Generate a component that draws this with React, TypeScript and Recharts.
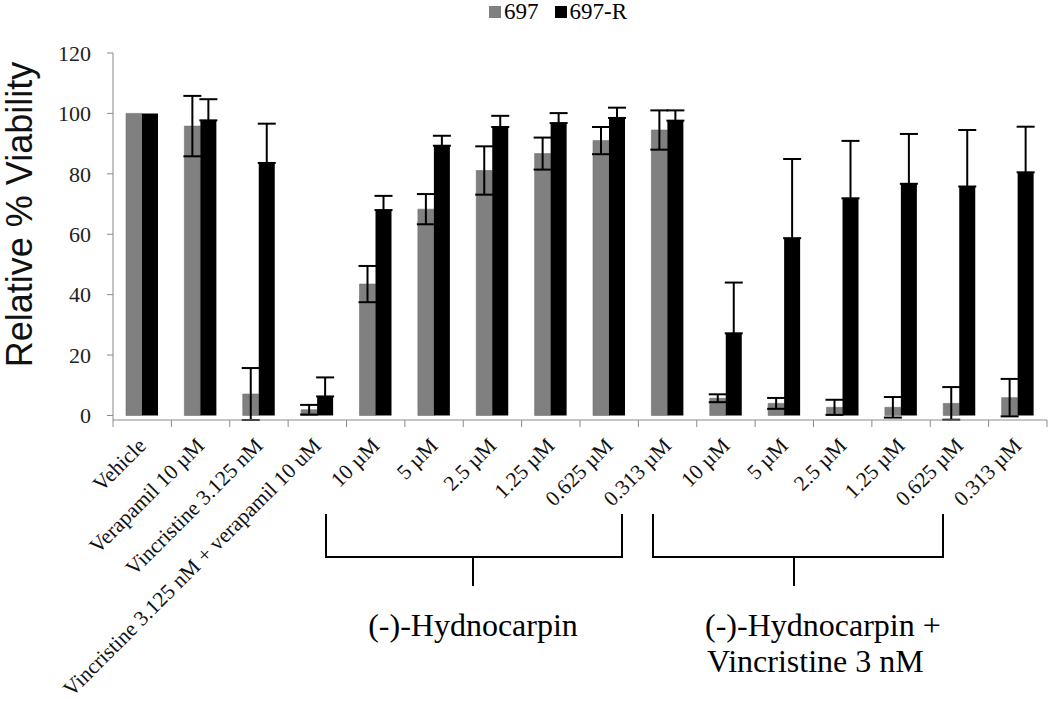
import { BarChart, Bar, XAxis, YAxis, ErrorBar, Legend } from 'recharts';

const CATEGORIES = [
  'Vehicle',
  'Verapamil 10 µM',
  'Vincristine 3.125 nM',
  'Vincristine 3.125 nM + verapamil 10 uM',
  '10 µM',
  '5 µM',
  '2.5 µM',
  '1.25 µM',
  '0.625 µM',
  '0.313 µM',
  '10 µM',
  '5 µM',
  '2.5 µM',
  '1.25 µM',
  '0.625 µM',
  '0.313 µM',
];

const V_697 = [100, 95.8, 7.1, 1.9, 43.5, 68.3, 81.1, 86.7, 91, 94.5, 5.7, 4, 2.7, 2.7, 4, 5.9];
const E_697 = [null, 10, 8.6, 1.6, 6, 5, 8, 5.3, 4.5, 6.5, 1.3, 1.8, 2.5, 3.4, 5.4, 6.2];
const V_697R = [100, 97.7, 83.6, 6.3, 68, 89.3, 95.5, 96.8, 98.5, 97.6, 27.2, 58.7, 71.9, 76.7, 75.8, 80.5];
const E_697R = [null, 7, 13, 6.3, 4.7, 3.3, 3.7, 3.3, 3.4, 3.4, 16.8, 26.2, 19, 16.5, 18.7, 15.1];

const Y_TICKS = [0, 20, 40, 60, 80, 100, 120];

// lower whisker of the black bars sits inside the bar, so only the upper half shows
const data = CATEGORIES.map((name, i) => ({
  id: i,
  name,
  a: V_697[i],
  aErr: E_697[i],
  b: V_697R[i],
  bErr: E_697R[i] == null ? null : [0, E_697R[i]],
}));

const CHART_W = 1050;
const CHART_H = 701;
const MARGIN = { top: 29, right: 3, bottom: 0, left: 0 };
const Y_AXIS_W = 113;
const X_AXIS_H = 281;
const BAND = (CHART_W - MARGIN.left - MARGIN.right - Y_AXIS_W) / CATEGORIES.length;
const TICK_LEN = 7;

const SERIF = '"Liberation Serif", "Times New Roman", serif';
const SANS = '"Liberation Sans", Arial, sans-serif';
const AXIS_GRAY = '#8a8a8a';

// x axis tick: label turned 45 degrees plus tick marks on the category edges
function XTick(props: any) {
  const { x, y, payload, index } = props;
  const axisY = y - TICK_LEN;
  const left = x - BAND / 2;
  const right = x + BAND / 2;
  const tx = x + 5;
  const ty = axisY + 27;
  return (
    <g>
      <line x1={left} x2={left} y1={axisY} y2={axisY + TICK_LEN} stroke={AXIS_GRAY} />
      {index === CATEGORIES.length - 1 && (
        <line x1={right} x2={right} y1={axisY} y2={axisY + TICK_LEN} stroke={AXIS_GRAY} />
      )}
      <text
        x={tx}
        y={ty}
        textAnchor="end"
        transform={`rotate(-45, ${tx}, ${ty})`}
        fontFamily={SERIF}
        fontSize={21.5}
        fill="#111"
      >
        {CATEGORIES[payload.value]}
      </text>
    </g>
  );
}

function YTitle(props: any) {
  const { viewBox } = props;
  const cx = viewBox.x + 32;
  const cy = viewBox.y + viewBox.height / 2 - 22;
  return (
    <text
      x={cx}
      y={cy}
      textAnchor="middle"
      transform={`rotate(-90, ${cx}, ${cy})`}
      fontFamily={SANS}
      fontSize={36}
      fill="#111"
    >
      Relative % Viability
    </text>
  );
}

function LegendContent(props: any) {
  const { payload } = props;
  return (
    <div style={{ display: 'flex', alignItems: 'center', fontFamily: SERIF, fontSize: 23, lineHeight: '24px' }}>
      {payload.map((item: any, i: number) => (
        <span key={item.value} style={{ display: 'flex', alignItems: 'center', marginLeft: i ? 16 : 0 }}>
          <span style={{ width: 12, height: 12, background: item.color, display: 'inline-block', marginRight: 3 }} />
          {item.value}
        </span>
      ))}
    </div>
  );
}

// hand drawn group brackets below the tick labels
const BRACKETS = [
  { x1: 326, x2: 622, stem: 473 },
  { x1: 653, x2: 943, stem: 794 },
];
const BRACKET_TOP = 514;
const BRACKET_Y = 557;
const STEM_END = 586;

export default function App() {
  return (
    <div style={{ position: 'absolute', left: 0, top: 0, width: CHART_W, height: CHART_H, background: '#fff' }}>
      <BarChart width={CHART_W} height={CHART_H} data={data} margin={MARGIN} barGap={0}>
        <Legend
          verticalAlign="top"
          align="left"
          content={<LegendContent />}
          wrapperStyle={{ left: 489, top: 0, width: 'auto' }}
        />
        <XAxis
          dataKey="id"
          height={X_AXIS_H}
          interval={0}
          tickLine={false}
          tickSize={TICK_LEN}
          tickMargin={0}
          axisLine={{ stroke: AXIS_GRAY }}
          tick={<XTick />}
        />
        <YAxis
          width={Y_AXIS_W}
          domain={[0, 120]}
          ticks={Y_TICKS}
          interval={0}
          tickSize={6}
          tickMargin={16}
          axisLine={{ stroke: AXIS_GRAY }}
          tickLine={{ stroke: AXIS_GRAY }}
          tick={{ fontFamily: SERIF, fontSize: 22, fill: '#222' }}
          label={<YTitle />}
        />
        <Bar dataKey="a" name="697" fill="#808080" stroke="#6e6e6e" strokeWidth={0.6} barSize={16} isAnimationActive={false}>
          <ErrorBar dataKey="aErr" width={9} stroke="#000" strokeWidth={2} direction="y" />
        </Bar>
        <Bar dataKey="b" name="697-R" fill="#000" barSize={16} isAnimationActive={false}>
          <ErrorBar dataKey="bErr" width={9} stroke="#000" strokeWidth={2} direction="y" />
        </Bar>
      </BarChart>
      <svg
        width={CHART_W}
        height={CHART_H}
        style={{ position: 'absolute', left: 0, top: 0, pointerEvents: 'none' }}
      >
        {BRACKETS.map((b) => (
          <g key={b.x1} stroke="#000" strokeWidth={2} fill="none">
            <polyline points={`${b.x1},${BRACKET_TOP} ${b.x1},${BRACKET_Y} ${b.x2},${BRACKET_Y} ${b.x2},${BRACKET_TOP}`} />
            <line x1={b.stem} x2={b.stem} y1={BRACKET_Y} y2={STEM_END} />
          </g>
        ))}
        <g fontFamily={SERIF} fontSize={32} fill="#000">
          <text x={473} y={636} textAnchor="middle">(-)-Hydnocarpin</text>
          <text x={705} y={636}>(-)-Hydnocarpin +</text>
          <text x={707} y={672}>Vincristine 3 nM</text>
        </g>
      </svg>
    </div>
  );
}
